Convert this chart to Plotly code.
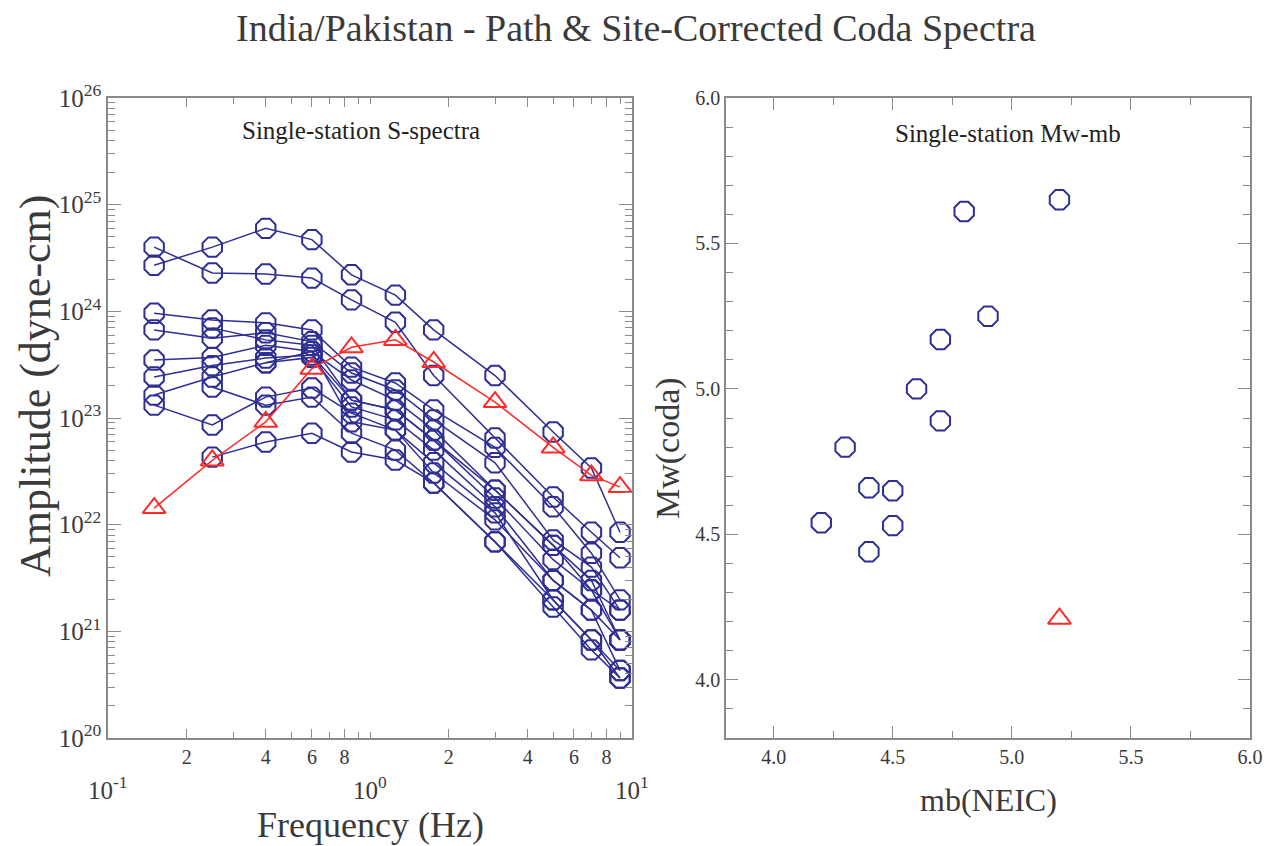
import plotly.graph_objects as go

W, H = 1268, 846
FONT = "Liberation Serif"
BLUE = "#2e2e94"
RED = "#ff2b2b"
AXC = "#8a8a8a"
TXT = "#3a3a3a"

# ---------------- data ----------------
freqs = [0.15, 0.25, 0.4, 0.6, 0.85, 1.25, 1.75, 3.0, 5.0, 7.0, 9.0]

spec_01 = [2.7e24, 4.0e24, 6.0e24, 4.7e24, 2.2e24, 1.42e24, 6.7e23, 2.5e23, 7.4e22, 3.4e22, 8.5e21]
spec_02 = [4.0e24, 2.29e24, 2.24e24, 2.05e24, 1.28e24, 7.9e23, 2.5e23, 6.5e22, 1.82e22, 8.5e21, 4.9e21]
spec_03 = [9.6e23, 8.3e23, 7.8e23, 6.7e23, 3.0e23, 2.13e23, 1.19e23, 5.3e22, 1.47e22, 5.4e21, 1.97e21]
spec_04 = [6.7e23, 5.6e23, 6.3e23, 5.2e23, 2.64e23, 1.83e23, 9.6e22, 3.8e22, 7.2e21, 4.0e21, 1.58e21]
spec_05 = [3.5e23, 3.7e23, 4.8e23, 4.2e23, 2.27e23, 1.47e23, 7.7e22, 2.11e22, 6.4e21, 3.0e21, 8.3e20]
spec_06 = [2.42e23, 3.1e23, 3.65e23, 3.9e23, 1.47e23, 1.19e23, 6.2e22, 1.78e22, 4.7e21, 2.44e21, 8.3e20]
spec_07 = [1.64e23, 2.42e23, 3.3e23, 3.7e23, 1.27e23, 9.6e22, 5.0e22, 1.47e22, 3.0e21, 1.58e21, 4.3e20]
spec_08 = [1.32e23, 8.6e22, 1.57e23, 1.91e23, 1.11e23, 7.7e22, 3.8e22, 1.29e22, 1.97e21, 8.3e20, 3.65e20]
spec_09 = [None, 7.0e23, 5.4e23, 4.8e23, 1.47e23, 1.19e23, 6.2e22, 2.11e22, 6.4e21, 2.44e21, 1.58e21]
spec_10 = [None, 1.95e23, 1.32e23, 1.57e23, 7.2e22, 5.0e22, 2.46e22, 6.9e21, 1.97e21, 8.3e20, 4.3e20]
spec_11 = [None, 4.3e22, 5.96e22, 7.2e22, 4.8e22, 4.04e22, 2.46e22, 6.9e21, 1.69e21, 6.7e20, 3.65e20]
spec_12 = [None, None, 3.3e23, 4.2e23, 9.2e22, 7.7e22, 3.05e22, 1.11e22, 3.0e21, 1.58e21, 8.3e20]
blue_spectra = [spec_01, spec_02, spec_03, spec_04, spec_05, spec_06,
                spec_07, spec_08, spec_09, spec_10, spec_11, spec_12]

red_spectrum = [1.43e22, 4.0e22, 9.2e22, 2.9e23, 4.6e23, 5.4e23, 3.35e23, 1.41e23, 5.3e22, 2.9e22, 2.25e22]

mb_blue = [4.2, 4.3, 4.4, 4.4, 4.5, 4.5, 4.6, 4.7, 4.7, 4.8, 4.9, 5.2]
mw_blue = [4.54, 4.80, 4.66, 4.44, 4.65, 4.53, 5.00, 4.89, 5.17, 5.61, 5.25, 5.65]
mb_red = [5.2]
mw_red = [4.21]

amp_ticks = [1e20, 1e21, 1e22, 1e23, 1e24, 1e25, 1e26]
amp_ticktext = ["10<sup>20</sup>", "10<sup>21</sup>", "10<sup>22</sup>", "10<sup>23</sup>",
                "10<sup>24</sup>", "10<sup>25</sup>", "10<sup>26</sup>"]
freq_digit_ticks = [0.2, 0.4, 0.6, 0.8, 2.0, 4.0, 6.0, 8.0]
freq_digit_text = ["2", "4", "6", "8", "2", "4", "6", "8"]
freq_decades = [-1, 0, 1]
freq_decade_text = ["10<sup>-1</sup>", "10<sup>0</sup>", "10<sup>1</sup>"]
mag_ticks = [4.0, 4.5, 5.0, 5.5, 6.0]
mag_ticktext = ["4.0", "4.5", "5.0", "5.5", "6.0"]

# ---------------- figure ----------------
def px(x):
    return x / W

def py(y):
    return 1 - y / H

fig = go.Figure()

for s in blue_spectra:
    fig.add_trace(go.Scatter(
        x=freqs, y=s, mode="lines+markers", xaxis="x", yaxis="y",
        line=dict(color=BLUE, width=1.5),
        marker=dict(symbol="octagon-open", size=21, color=BLUE, line=dict(width=2, color=BLUE)),
        showlegend=False, connectgaps=False))

fig.add_trace(go.Scatter(
    x=freqs, y=red_spectrum, mode="lines+markers", xaxis="x", yaxis="y",
    line=dict(color=RED, width=1.5),
    marker=dict(symbol="triangle-up-open", size=20, color=RED, line=dict(width=2, color=RED)),
    showlegend=False))

fig.add_trace(go.Scatter(
    x=mb_blue, y=mw_blue, mode="markers", xaxis="x2", yaxis="y2",
    marker=dict(symbol="octagon-open", size=21, color=BLUE, line=dict(width=2, color=BLUE)),
    showlegend=False))
fig.add_trace(go.Scatter(
    x=mb_red, y=mw_red, mode="markers", xaxis="x2", yaxis="y2",
    marker=dict(symbol="triangle-up-open", size=20, color=RED, line=dict(width=2, color=RED)),
    showlegend=False))

minor_log_x = [float(m) * 10.0 ** e for e in (-1, 0) for m in range(2, 10)]
minor_log_y = [float(m) * 10.0 ** e for e in range(20, 26) for m in range(2, 10)]

common = dict(showline=True, linecolor=AXC, linewidth=1.5, mirror="ticks",
              ticks="inside", tickcolor=AXC, tickwidth=1.2, showgrid=False,
              zeroline=False, automargin=False)

fig.update_layout(
    width=W, height=H, margin=dict(l=0, r=0, t=0, b=0, autoexpand=False),
    paper_bgcolor="white", plot_bgcolor="white",
    font=dict(family=FONT, color=TXT),
    xaxis=dict(domain=[px(108), px(632)], type="log", range=[-1, 1], anchor="y",
               tickmode="array", tickvals=freq_digit_ticks, ticktext=freq_digit_text,
               ticklen=9, tickfont=dict(size=20, family=FONT, color=TXT),
               minor=dict(tickmode="array", tickvals=minor_log_x + [0.1, 1.0, 10.0],
                          ticks="inside", ticklen=6, tickcolor=AXC),
               **common),
    yaxis=dict(domain=[py(738), py(98)], type="log", range=[20, 26], anchor="x",
               tickmode="array", tickvals=amp_ticks, ticktext=amp_ticktext,
               ticklen=13, tickfont=dict(size=25, family=FONT, color=TXT),
               minor=dict(tickmode="array", tickvals=minor_log_y,
                          ticks="inside", ticklen=7, tickcolor=AXC),
               **common),
    xaxis2=dict(domain=[px(726), px(1250)], range=[3.8, 6.0], anchor="y2",
                tickmode="array", tickvals=mag_ticks, ticktext=mag_ticktext,
                ticklen=12, tickfont=dict(size=20, family=FONT, color=TXT),
                minor=dict(dtick=0.25, tick0=4.0, ticks="inside", ticklen=7, tickcolor=AXC),
                **common),
    yaxis2=dict(domain=[py(738), py(98)], range=[3.8, 6.0], anchor="x2",
                tickmode="array", tickvals=mag_ticks, ticktext=mag_ticktext,
                ticklen=12, tickfont=dict(size=20, family=FONT, color=TXT),
                minor=dict(dtick=0.1, tick0=4.0, ticks="inside", ticklen=7, tickcolor=AXC),
                **common),
)

def label(text, x, y, size, color=TXT, angle=0, xref="paper"):
    return dict(text=text, x=x, y=y, xref=xref, yref="paper", showarrow=False,
                xanchor="center", yanchor="middle", textangle=angle,
                font=dict(size=size, family=FONT, color=color))

ann = [
    label("India/Pakistan - Path & Site-Corrected Coda Spectra", px(636), py(28), 38),
    label("Amplitude (dyne-cm)", px(35), py(386), 44, angle=-90),
    label("Frequency (Hz)", px(370), py(825), 36),
    label("mb(NEIC)", px(988), py(800), 32),
    label("Mw(coda)", px(668), py(448), 34, angle=-90),
    label("Single-station S-spectra", px(361), py(131), 25, color="#222"),
    label("Single-station Mw-mb", px(1008), py(133), 25, color="#222"),
]
for d, t in zip(freq_decades, freq_decade_text):
    ann.append(label(t, d, py(788), 25, xref="x"))
fig.update_layout(annotations=ann)

fig.write_html("out.html")
